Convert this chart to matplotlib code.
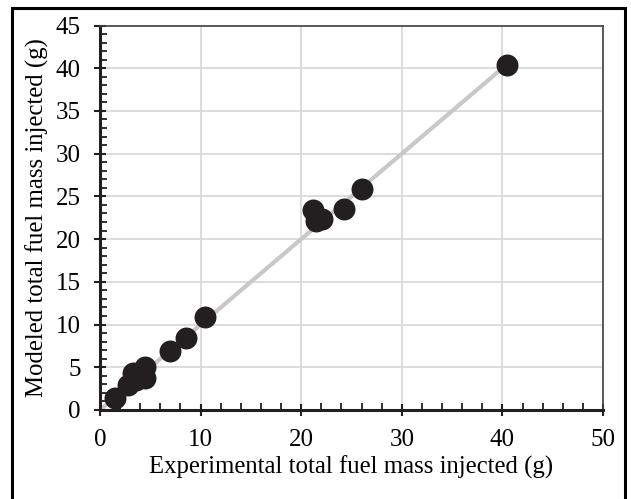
import matplotlib.pyplot as plt
from matplotlib.ticker import MultipleLocator
from matplotlib.patches import Rectangle

plt.rcParams['font.family'] = ['Liberation Serif', 'DejaVu Serif']

# experimental vs modeled total fuel mass (g)
exp_mass = [1.5, 2.8, 3.3, 3.6, 4.5, 4.5, 7.0, 8.5, 10.4, 21.2, 21.5, 22.1, 24.3, 26.0, 40.5]
mod_mass = [1.4, 2.9, 4.3, 3.5, 5.0, 3.8, 6.9, 8.4, 10.9, 23.4, 22.1, 22.4, 23.5, 25.9, 40.4]
line_x = [0, 40.5]
line_y = [0, 40.5]

fig = plt.figure(figsize=(6.31, 4.99), dpi=100)
ax = fig.add_axes([100/631, 1 - 410/499, 503/631, 384.5/499])

ax.plot(line_x, line_y, color='#c8c8c8', lw=3, zorder=2)
ax.scatter(exp_mass, mod_mass, s=250, color='#231f20', zorder=3, linewidths=0)

ax.set_xlim(0, 50)
ax.set_ylim(0, 45)
ax.xaxis.set_major_locator(MultipleLocator(10))
ax.xaxis.set_minor_locator(MultipleLocator(2))
ax.yaxis.set_major_locator(MultipleLocator(5))
ax.yaxis.set_minor_locator(MultipleLocator(1))
ax.grid(True, which='major', color='#d9d9d9', lw=1.3, zorder=0)
ax.set_axisbelow(True)

ax.tick_params(which='major', direction='inout', length=8, width=1.5, labelsize=18, color='#231f20')
ax.tick_params(which='minor', direction='in', length=5, width=1.3, color='#231f20')
ax.tick_params(axis='x', which='major', pad=10)
ax.tick_params(axis='y', which='major', pad=10)

for s in ['left', 'bottom']:
    ax.spines[s].set_linewidth(2.2)
    ax.spines[s].set_color('#231f20')
for s in ['top', 'right']:
    ax.spines[s].set_linewidth(1.2)
    ax.spines[s].set_color('#404040')

ax.set_xlabel('Experimental total fuel mass injected (g)', fontsize=17.8, labelpad=3)
ax.set_ylabel('Modeled total fuel mass injected (g)', fontsize=17.8, labelpad=5)

# outer frame around the figure
fig.patches.append(Rectangle((12/631, -0.01), 613/631, 1 - 7.5/499 + 0.01,
                             transform=fig.transFigure, fill=False,
                             edgecolor='black', lw=2.2))

fig.savefig('out.png', dpi=100)
